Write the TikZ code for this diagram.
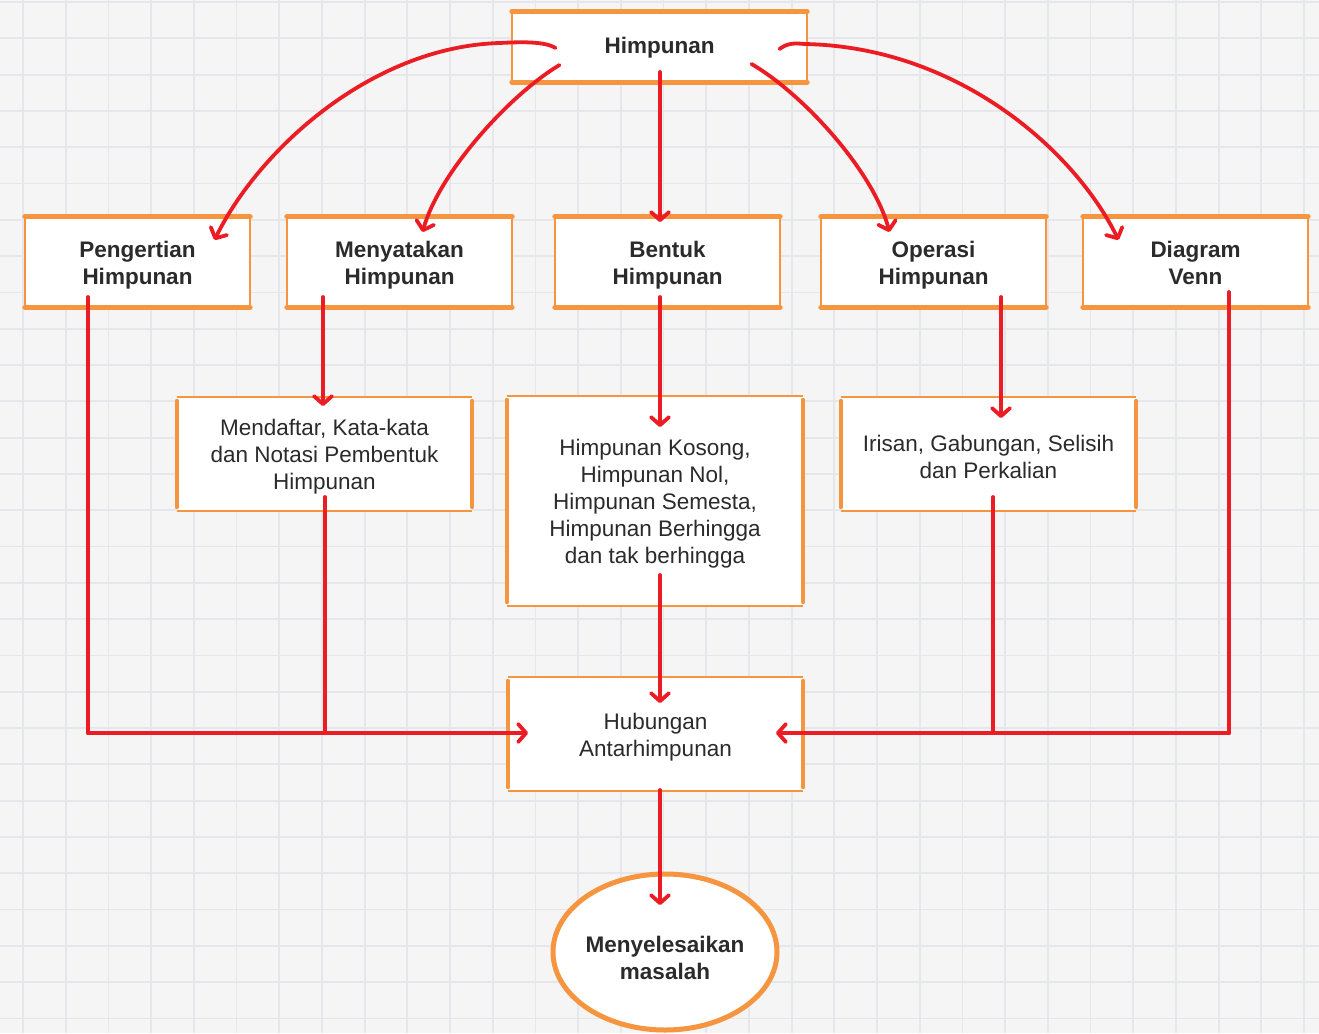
\documentclass[tikz,border=0pt]{standalone}
\usepackage{fontspec}
\setmainfont{Liberation Sans}
\usetikzlibrary{arrows.meta,calc,shapes.geometric}
\definecolor{bgc}{HTML}{F5F5F6}
\definecolor{gridc}{HTML}{E5E7EA}
\definecolor{org}{HTML}{F5953F}
\definecolor{rd}{HTML}{EC1C24}
\definecolor{txt}{HTML}{2B2B2B}
\newcommand\bordA[1]{%
  \draw[org, line width=5pt, line cap=round] (#1.north west) -- (#1.north east);
  \draw[org, line width=5pt, line cap=round] (#1.south west) -- (#1.south east);
  \draw[org, line width=2pt] (#1.north west) -- (#1.south west);
  \draw[org, line width=2pt] (#1.north east) -- (#1.south east);}
\newcommand\bordB[1]{%
  \draw[org, line width=2pt] (#1.north west) -- (#1.north east);
  \draw[org, line width=2pt] (#1.south west) -- (#1.south east);
  \draw[org, line width=4pt, line cap=round] ($(#1.north west)+(0,4)$) -- ($(#1.south west)+(0,-4)$);
  \draw[org, line width=4pt, line cap=round] ($(#1.north east)+(0,4)$) -- ($(#1.south east)+(0,-4)$);}
\begin{document}
\begin{tikzpicture}[x=1pt,y=-1pt,
  boxA/.style={fill=white, minimum width=225pt, minimum height=90pt, inner sep=0pt},
  boxB/.style={fill=white, minimum width=295pt, minimum height=114pt, inner sep=0pt},
  tA/.style={align=center, inner sep=0pt, yshift=-3pt, font=\bfseries\fontsize{22.5}{27}\selectfont, text=txt},
  tB/.style={align=center, inner sep=0pt, yshift=-3pt, font=\fontsize{22.5}{27}\selectfont, text=txt},
  link/.style={draw=rd, line width=3.8pt, line cap=round, -{Straight Barb[length=8pt,width=18pt,round]}},
  wire/.style={draw=rd, line width=3.8pt, line cap=round, line join=round}
]
\useasboundingbox (0,0) rectangle (1319,1033);
\fill[bgc] (0,0) rectangle (1319,1033);
\foreach \i in {0,...,30} { \draw[gridc, line width=1.8pt] ({23+42.7*\i},0) -- ({23+42.7*\i},1033); }
\foreach \j in {0,...,28} { \draw[gridc, line width=1.8pt] (0,{2+36.3*\j}) -- (1319,{2+36.3*\j}); }

% nodes
\node[boxA, minimum width=295pt, minimum height=70pt, label={[tA, yshift=2pt]center:Himpunan}] (himp) at (659.5,47) {};
\node[boxA, label={[tA]center:{Pengertian\\Himpunan}}] (peng) at (137.5,262) {};
\node[boxA, label={[tA]center:{Menyatakan\\Himpunan}}] (meny) at (399.5,262) {};
\node[boxA, label={[tA]center:{Bentuk\\Himpunan}}] (bent) at (667.5,262) {};
\node[boxA, label={[tA]center:{Operasi\\Himpunan}}] (oper) at (933.5,262) {};
\node[boxA, label={[tA, yshift=2pt]center:{Diagram\\Venn}}] (venn) at (1195.5,262) {};
\node[boxB, label={[tB]center:{Mendaftar, Kata-kata\\dan Notasi Pembentuk\\Himpunan}}] (mend) at (324.5,454) {};
\node[boxB, minimum width=296pt, minimum height=210pt, label={[tB]center:{Himpunan Kosong,\\Himpunan Nol,\\Himpunan Semesta,\\Himpunan Berhingga\\dan tak berhingga}}] (koso) at (655,501) {};
\node[boxB, label={[tB]center:{Irisan, Gabungan, Selisih\\dan Perkalian}}] (iris) at (988.5,454) {};
\node[boxB, label={[tB]center:{Hubungan\\Antarhimpunan}}] (hubu) at (655.5,734) {};
\node[ellipse, draw=org, line width=5pt, fill=white, minimum width=224pt, minimum height=156pt, inner sep=0pt,
  label={[tA, yshift=-3pt]center:{Menyelesaikan\\masalah}}] (ell) at (665,952) {};

\bordA{himp}\bordA{peng}\bordA{meny}\bordA{bent}\bordA{oper}\bordA{venn}
\bordB{mend}\bordB{koso}\bordB{iris}\bordB{hubu}

% curved arrows from Himpunan
\draw[link] ($(himp.center)+(-104,1)$) .. controls ($(himp.center)+(-115,-6)$) and ($(himp.center)+(-140,-5)$) .. ($(himp.center)+(-160,-4)$)
  .. controls ($(himp.center)+(-290,0)$) and ($(peng.center)+(120,-110)$) .. ($(peng.center)+(77,-22)$);
\draw[link] ($(himp.center)+(-100,18)$) .. controls ($(himp.center)+(-150,48)$) and ($(meny.center)+(40,-90)$) .. ($(meny.center)+(23,-30)$);
\draw[link] ($(himp.center)+(0.5,25)$) -- ($(bent.center)+(-7.5,-40)$);
\draw[link] ($(himp.center)+(92,17)$) .. controls ($(himp.center)+(145,48)$) and ($(oper.center)+(-60,-90)$) .. ($(oper.center)+(-44,-30)$);
\draw[link] ($(himp.center)+(120,2)$) .. controls ($(himp.center)+(128,-4)$) and ($(himp.center)+(135,-4)$) .. ($(himp.center)+(145,-3)$)
  .. controls ($(himp.center)+(300,0)$) and ($(venn.center)+(-120,-110)$) .. ($(venn.center)+(-77,-22)$);

% vertical links
\draw[link] ($(meny.center)+(-76.5,35)$) -- ($(mend.center)+(-1.5,-48)$);
\draw[link] ($(bent.center)+(-7.5,35)$) -- ($(koso.center)+(5,-74)$);
\draw[link] ($(oper.center)+(67.5,35)$) -- ($(iris.center)+(12.5,-36)$);
\draw[link] ($(koso.center)+(5,74)$) -- ($(hubu.center)+(4.5,-31)$);
\draw[link] ($(hubu.center)+(4.5,56)$) -- ($(ell.center)+(-5,-47)$);

% collecting lines into Hubungan
\coordinate (jl) at ($(peng.center)+(-49.5,471)$);
\coordinate (jr) at ($(venn.center)+(33.5,471)$);
\draw[wire] ($(peng.center)+(-49.5,35)$) -- (jl);
\draw[wire] ($(mend.center)+(0.5,43)$) -- ($(mend.center)+(0.5,279)$);
\draw[link] (jl) -- ($(hubu.center)+(-127.5,-1)$);
\draw[wire] ($(venn.center)+(33.5,30)$) -- (jr);
\draw[wire] ($(iris.center)+(4.5,43)$) -- ($(iris.center)+(4.5,279)$);
\draw[link] (jr) -- ($(hubu.center)+(120.5,-1)$);
\end{tikzpicture}
\end{document}
